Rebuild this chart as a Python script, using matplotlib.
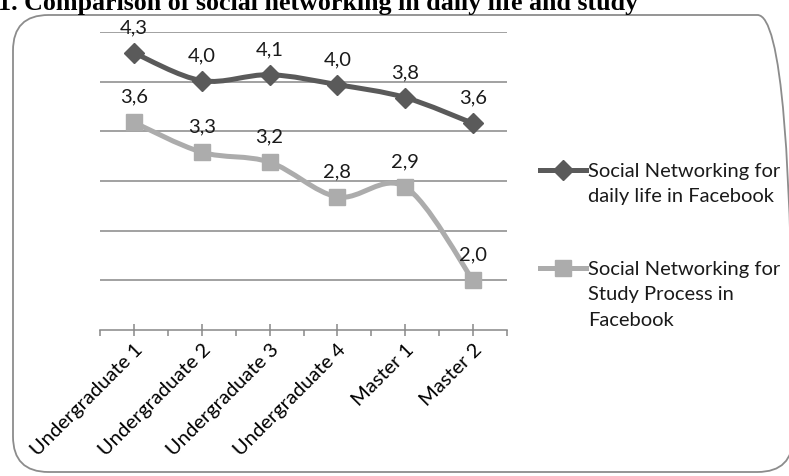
import matplotlib
matplotlib.use("Agg")
import matplotlib.pyplot as plt
import numpy as np
from matplotlib.path import Path
from matplotlib.patches import PathPatch, FancyBboxPatch
from matplotlib.lines import Line2D

categories = ["Undergraduate 1", "Undergraduate 2", "Undergraduate 3",
              "Undergraduate 4", "Master 1", "Master 2"]
daily_life = [4.29, 4.01, 4.07, 3.97, 3.84, 3.58]
study_process = [3.59, 3.29, 3.19, 2.84, 2.94, 2.00]
series_names = ["Social Networking for\ndaily life in Facebook",
                "Social Networking for\nStudy Process in\nFacebook"]
title = "1. Comparison of social networking in daily life and study"

DARK = "#5a5a5a"
LIGHT = "#acacac"
GRID = "#888888"
FONT = "Lato"
FS = 14.5

W, H = 789, 476
fig = plt.figure(figsize=(W / 100, H / 100), dpi=100)


def px(x, y):
    # pixel coords (top-left origin) -> figure fraction
    return x / W, 1 - y / H


# outer rounded frame
frame = FancyBboxPatch(px(13, 472), (793 - 13) / W, (472 - 15) / H,
                       boxstyle="round,pad=0,rounding_size=0.045",
                       transform=fig.transFigure, fill=False,
                       edgecolor="#8c8c8c", linewidth=1.3,
                       mutation_aspect=W / H)
fig.add_artist(frame)

fig.text(*px(-2, 10), title, family="Liberation Serif", weight="bold",
         fontsize=18.7, va="baseline", ha="left")

ax = fig.add_axes([100 / W, 1 - 330 / H, 407 / W, 298 / H])
x = np.arange(len(categories))
ax.set_xlim(-0.5, len(categories) - 0.5)
ax.set_ylim(1.5, 4.5)


def smooth_path(xs, ys):
    # Catmull-Rom segments expressed as cubic Bezier curves
    pts = np.column_stack([xs, ys]).astype(float)
    ext = np.vstack([pts[0], pts, pts[-1]])
    verts = [pts[0]]
    codes = [Path.MOVETO]
    for i in range(len(pts) - 1):
        p0, p1, p2, p3 = ext[i], ext[i + 1], ext[i + 2], ext[i + 3]
        verts += [p1 + (p2 - p0) / 6, p2 - (p3 - p1) / 6, p2]
        codes += [Path.CURVE4] * 3
    return Path(verts, codes)


for vals, color, marker, ms in [(daily_life, DARK, "D", 10),
                                (study_process, LIGHT, "s", 11.5)]:
    ax.add_patch(PathPatch(smooth_path(x, vals), fill=False, edgecolor=color,
                           linewidth=3.6, capstyle="round", zorder=3))
    ax.plot(x, vals, linestyle="none", marker=marker, markersize=ms,
            color=color, zorder=4)
    for xi, v in zip(x, vals):
        ax.annotate(f"{v:.1f}".replace(".", ","), (xi, v),
                    xytext=(0, 12), textcoords="offset points",
                    ha="center", va="bottom", fontsize=FS,
                    family=FONT, color="#1a1a1a", zorder=5)

ax.set_yticks(np.arange(2.0, 4.51, 0.5))
ax.yaxis.grid(True, color=GRID, linewidth=1.1)
ax.tick_params(axis="y", length=0, labelleft=False)
ax.set_axisbelow(True)
for s in ["left", "right", "top"]:
    ax.spines[s].set_visible(False)
ax.spines["bottom"].set_color(GRID)
ax.spines["bottom"].set_linewidth(1.1)

ax.set_xticks(x)
ax.set_xticklabels(categories, rotation=45, ha="right",
                   rotation_mode="anchor", family=FONT, fontsize=FS)
ax.set_xticks(np.arange(-0.5, len(categories)), minor=True)
ax.tick_params(axis="x", which="major", direction="inout", length=8,
               color=GRID, width=1.1, pad=4)
ax.tick_params(axis="x", which="minor", direction="out", length=4,
               color=GRID, width=1.1)

# legend, handle aligned with first text line
for (name, color, marker, ms), y in zip(
        [(series_names[0], DARK, "D", 10), (series_names[1], LIGHT, "s", 11.5)],
        [170, 268]):
    x0, yf = px(540, y)
    x1, _ = px(586, y)
    fig.add_artist(Line2D([x0, x1], [yf, yf], transform=fig.transFigure,
                          color=color, linewidth=3.6))
    fig.add_artist(Line2D([(x0 + x1) / 2], [yf], transform=fig.transFigure,
                          color=color, marker=marker, markersize=ms))
    fig.text(*px(588, y - 7), name, family=FONT, fontsize=FS,
             va="top", ha="left", linespacing=1.6, color="#1a1a1a")

fig.savefig("out.png", dpi=100)
